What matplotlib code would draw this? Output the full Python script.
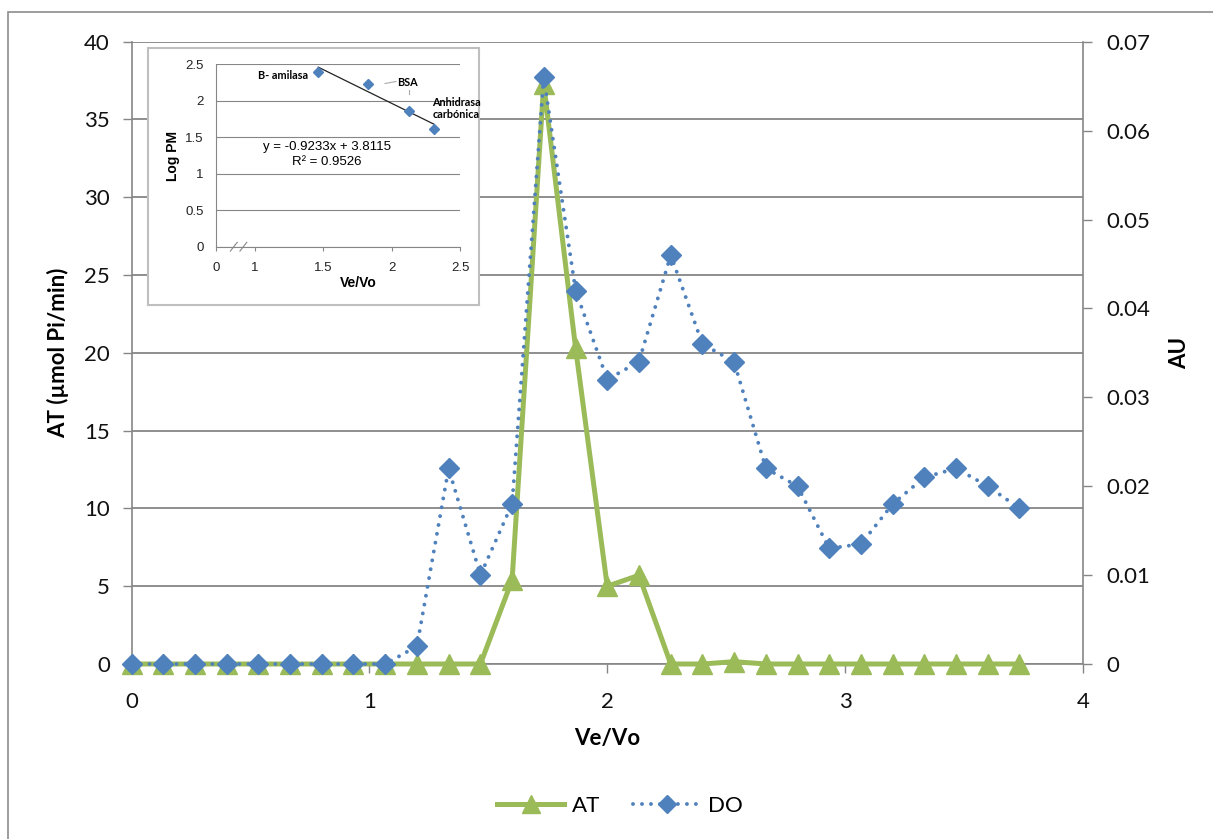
import matplotlib
matplotlib.use("Agg")
import matplotlib.pyplot as plt
from matplotlib.lines import Line2D
from matplotlib.patches import Rectangle

# ---------------- data ----------------
ve_vo = [0.0, 0.133, 0.267, 0.4, 0.533, 0.667, 0.8, 0.933, 1.067, 1.2,
         1.333, 1.467, 1.6, 1.733, 1.867, 2.0, 2.133, 2.267, 2.4, 2.533,
         2.667, 2.8, 2.933, 3.067, 3.2, 3.333, 3.467, 3.6, 3.733]
at_values = [0, 0, 0, 0, 0, 0, 0, 0, 0, 0,
             0, 0, 5.4, 37.3, 20.3, 5.0, 5.7, 0, 0, 0.15,
             0, 0, 0, 0, 0, 0, 0, 0, 0]
do_values = [0, 0, 0, 0, 0, 0, 0, 0, 0, 0.002,
             0.022, 0.010, 0.018, 0.066, 0.042, 0.032, 0.034, 0.046, 0.036, 0.034,
             0.022, 0.020, 0.013, 0.0135, 0.018, 0.021, 0.022, 0.020, 0.0175]

left_ticks = [0, 5, 10, 15, 20, 25, 30, 35, 40]
right_ticks = [0, 0.01, 0.02, 0.03, 0.04, 0.05, 0.06, 0.07]
right_labels = ["0", "0.01", "0.02", "0.03", "0.04", "0.05", "0.06", "0.07"]
x_ticks = [0, 1, 2, 3, 4]

# inset calibration data
cal_x = [1.463, 1.829, 2.129, 2.31]
cal_y = [2.39, 2.226, 1.86, 1.62]
cal_slope = -0.9233
cal_intercept = 3.8115
inset_yticks = [0, 0.5, 1, 1.5, 2, 2.5]
inset_xticks = [0.715, 1, 1.5, 2, 2.5]
inset_xlabels = ["0", "1", "1.5", "2", "2.5"]

GREEN = "#9BBB59"
BLUE = "#4F81BD"
GRID = "#868686"
DOTS = (0, (0.01, 2.3))

plt.rcParams['font.family'] = ['Lato', 'DejaVu Sans']

W, H = 1213, 839
fig = plt.figure(figsize=(W / 100, H / 100), dpi=100)

def fx(px):
    return px / W

def fy(py):
    return 1 - py / H

# outer chart border
fig.patches.append(Rectangle((fx(8), fy(845)), fx(1220) - fx(8), fy(12) - fy(845),
                             transform=fig.transFigure, fill=False,
                             edgecolor="#8C8C8C", lw=1.2, zorder=0))

L, R, T, B = 131.5, 1083, 41.7, 664
ax = fig.add_axes([fx(L), fy(B), fx(R) - fx(L), fy(T) - fy(B)])
ax.set_zorder(1)
ax.set_xlim(0, 4)
ax.set_ylim(0, 40)
ax.set_xticks(x_ticks)
ax.set_yticks(left_ticks)
ax.set_yticklabels([str(v) for v in left_ticks])
ax.grid(axis='y', color=GRID, lw=1.3)
ax.set_axisbelow(True)
for s in ['top', 'right']:
    ax.spines[s].set_visible(False)
for s in ['left', 'bottom']:
    ax.spines[s].set_color(GRID)
    ax.spines[s].set_linewidth(1.2)
ax.tick_params(axis='both', direction='out', length=6.5, width=1.0, color=GRID,
               labelsize=16, labelcolor='#111111')
ax.tick_params(axis='y', pad=9)
ax.tick_params(axis='x', pad=14)

ax.plot(ve_vo, at_values, color=GREEN, lw=3.6, marker='^', ms=14,
        markerfacecolor=GREEN, markeredgecolor=GREEN, clip_on=False, zorder=3)

ax2 = ax.twinx()
ax2.set_zorder(2)
ax2.set_ylim(0, 0.07)
ax2.set_yticks(right_ticks)
ax2.set_yticklabels(right_labels)
for s in ['top', 'left', 'bottom']:
    ax2.spines[s].set_visible(False)
ax2.spines['right'].set_color(GRID)
ax2.spines['right'].set_linewidth(1.2)
ax2.tick_params(axis='y', direction='out', length=6.5, width=1.0, color=GRID,
                labelsize=16, labelcolor='#111111', pad=10)
ax2.plot(ve_vo, do_values, color=BLUE, lw=2.8, linestyle=DOTS,
         dash_capstyle='round', marker='D', ms=10, markerfacecolor=BLUE,
         markeredgecolor=BLUE, clip_on=False, zorder=4)

# axis titles
fig.text(fx(58), fy(353), "AT (µmol Pi/min)", rotation=90, ha='center', va='center',
         fontsize=16, fontweight='bold')
fig.text(fx(1180), fy(353), "AU", rotation=90, ha='center', va='center',
         fontsize=16, fontweight='bold')
fig.text(fx(607), fy(738), "Ve/Vo", ha='center', va='center',
         fontsize=16, fontweight='bold')

# legend
h_at = Line2D([], [], color=GREEN, lw=3.6, marker='^', ms=13, markerfacecolor=GREEN,
              markeredgecolor=GREEN)
h_do = Line2D([], [], color=BLUE, lw=2.8, linestyle=DOTS,
              dash_capstyle='round', marker='D', ms=9, markerfacecolor=BLUE,
              markeredgecolor=BLUE)
fig.legend([h_at, h_do], ["AT", "DO"], loc='center', bbox_to_anchor=(fx(620), fy(806)),
           ncol=2, frameon=False, fontsize=16, handlelength=3.0, handletextpad=0.35,
           columnspacing=1.5, markerscale=1.0)

# ---------------- inset ----------------
box = fig.add_axes([fx(148), fy(305), fx(479) - fx(148), fy(48) - fy(305)])
box.set_zorder(5)
box.set_xticks([])
box.set_yticks([])
box.set_facecolor('white')
for s in box.spines.values():
    s.set_color("#BFBFBF")
    s.set_linewidth(1.5)

IL, IR, IT, IB = 216, 460, 64.3, 246.7
ins = fig.add_axes([fx(IL), fy(IB), fx(IR) - fx(IL), fy(IT) - fy(IB)])
ins.set_zorder(6)
ins.patch.set_alpha(0)
ins.set_xlim(0.715, 2.5)
ins.set_ylim(0, 2.5)
ins.set_yticks(inset_yticks)
ins.set_yticklabels(["0", "0.5", "1", "1.5", "2", "2.5"])
ins.set_xticks(inset_xticks)
ins.set_xticklabels(inset_xlabels)
ins.grid(axis='y', color=GRID, lw=0.8)
ins.set_axisbelow(True)
for s in ['top', 'right']:
    ins.spines[s].set_visible(False)
for s in ['left', 'bottom']:
    ins.spines[s].set_color(GRID)
    ins.spines[s].set_linewidth(0.8)
ins.tick_params(axis='both', direction='out', length=3, width=0.8, color=GRID,
                labelsize=9.5, labelcolor='#222222')
ins.tick_params(axis='y', length=0, pad=9)
ins.tick_params(axis='x', pad=8)
for lab in ins.get_xticklabels() + ins.get_yticklabels():
    lab.set_fontfamily(['Liberation Sans', 'DejaVu Sans'])

ins.plot(cal_x, cal_y, linestyle='none', marker='D', ms=5.5, color=BLUE,
         markeredgecolor=BLUE, zorder=3)
x0, x1 = cal_x[0], cal_x[-1]
ins.plot([x0, x1], [cal_slope * x0 + cal_intercept, cal_slope * x1 + cal_intercept],
         color='#222222', lw=0.9, zorder=2)

# axis break marks
for dx in (0.0, 0.07):
    ins.plot([0.82 + dx, 0.87 + dx], [-0.06, 0.06], color=GRID, lw=0.8, clip_on=False)

ins_font = ['Liberation Sans', 'DejaVu Sans']
fig.text(fx(173), fy(156), "Log PM", rotation=90, ha='center', va='center',
         fontsize=10, fontweight='bold', family=ins_font, zorder=10)
fig.text(fx(358), fy(283), "Ve/Vo", ha='center', va='center',
         fontsize=10, fontweight='bold', family=ins_font, zorder=10)
fig.text(fx(327), fy(147), "y = -0.9233x + 3.8115", ha='center', va='center',
         fontsize=9.5, family=ins_font, zorder=10)
fig.text(fx(327), fy(162), "R² = 0.9526", ha='center', va='center',
         fontsize=9.5, family=ins_font, zorder=10)

fig.text(fx(283), fy(75.5), "B- amilasa", ha='center', va='center',
         fontsize=7.8, fontweight='bold', zorder=10)
fig.text(fx(407), fy(82.5), "BSA", ha='center', va='center',
         fontsize=7.8, fontweight='bold', zorder=10)
fig.text(fx(456), fy(102.5), "Anhidrasa", ha='center', va='center',
         fontsize=7.8, fontweight='bold', zorder=10)
fig.text(fx(456), fy(114), "carbónica", ha='center', va='center',
         fontsize=7.8, fontweight='bold', zorder=10)
fig.lines.append(Line2D([fx(385), fx(396)], [fy(83.5), fy(81.5)], transform=fig.transFigure,
                        color="#AAAAAA", lw=0.8, zorder=10))
fig.lines.append(Line2D([fx(408.7), fx(408.7)], [fy(89.5), fy(94)], transform=fig.transFigure,
                        color="#AAAAAA", lw=0.8, zorder=10))

fig.savefig("out.png", dpi=100, facecolor='white')
